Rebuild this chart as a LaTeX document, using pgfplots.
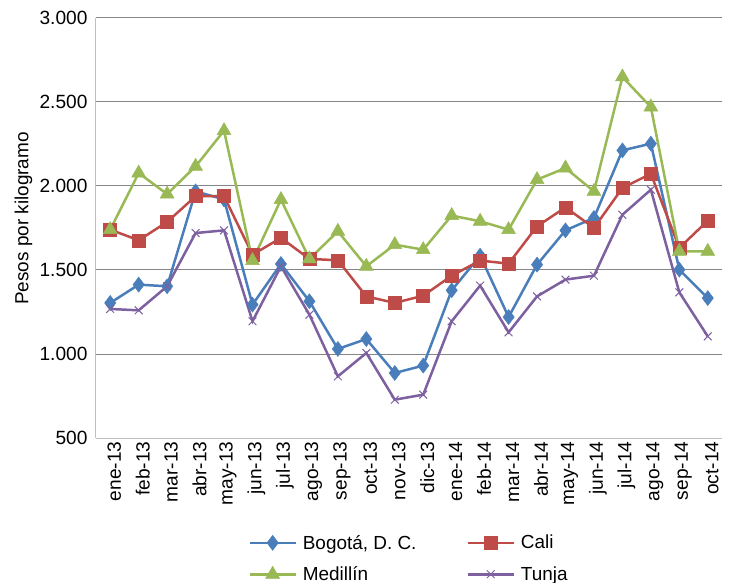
\documentclass[border=0pt]{standalone}
\usepackage{fontspec}
\setmainfont{Liberation Sans}
\usepackage{pgfplots}
\pgfplotsset{compat=1.18}
\usetikzlibrary{calc}
\definecolor{cB}{HTML}{4A7EBB}
\definecolor{cR}{HTML}{BE4B48}
\definecolor{cG}{HTML}{98B954}
\definecolor{cP}{HTML}{7D60A0}
\definecolor{gridc}{HTML}{868686}
\definecolor{axc}{HTML}{BFBFBF}
\begin{document}
\begin{tikzpicture}
\begin{axis}[
  scale only axis, width=626bp, height=420bp,
  xmin=-0.5, xmax=21.5, ymin=500, ymax=3000,
  xtick={0,...,21},
  xticklabels={ene-13,feb-13,mar-13,abr-13,may-13,jun-13,jul-13,ago-13,sep-13,oct-13,nov-13,dic-13,ene-14,feb-14,mar-14,abr-14,may-14,jun-14,jul-14,ago-14,sep-14,oct-14},
  ytick={500,1000,...,3000},
  font=\fontsize{19}{22}\selectfont,
  ticklabel style={font=\fontsize{19.2}{22}\selectfont},
  /pgf/number format/assume math mode=true,
  yticklabel style={/pgf/number format/1000 sep={.}, xshift=-5bp},
  axis x line*=bottom, axis y line*=left,
  x axis line style={axc, line width=1bp},
  y axis line style={axc, line width=1bp},
  ymajorgrids, grid style={gridc, line width=1bp},
  major x tick style={draw=none},
  major y tick style={draw=none},
  x tick label style={rotate=90, anchor=east, yshift=-4bp},
  ylabel={Pesos por kilogramo},
  ylabel style={at={(axis description cs:-0.116,0.5226)}, anchor=center},
  legend columns=2, legend cell align=left,
  legend style={at={(axis description cs:0.5,-0.287)}, anchor=center, draw=none, fill=none,
    font=\fontsize{19}{22}\selectfont, row sep=12bp,
    /tikz/every odd column/.append style={column sep=4bp},
    /tikz/every even column/.append style={column sep=48bp}},
  legend image code/.code={\draw[mark repeat=2,mark phase=2,#1] plot coordinates {(0bp,0bp) (23bp,0bp) (46bp,0bp)};},
  every axis plot/.append style={line width=2.5bp},
]
\coordinate (sw) at (rel axis cs:0,0);
\coordinate (ne) at (rel axis cs:1,1);
\addplot[cB, mark=diamond*, mark size=7.5bp, mark options={fill=cB, draw=cB, line width=0.5bp}] coordinates {
(0,1304)(1,1413)(2,1403)(3,1968)(4,1920)(5,1294)(6,1536)(7,1314)(8,1030)(9,1089)(10,887)
(11,931)(12,1379)(13,1585)(14,1220)(15,1532)(16,1736)(17,1810)(18,2212)(19,2252)(20,1502)(21,1333)};
\addlegendentry{Bogotá, D. C.}
\addplot[cR, mark=square*, mark size=6.5bp, mark options={fill=cR, draw=cR, line width=0.5bp}] coordinates {
(0,1740)(1,1677)(2,1786)(3,1939)(4,1939)(5,1591)(6,1691)(7,1566)(8,1558)(9,1343)(10,1304)
(11,1347)(12,1466)(13,1556)(14,1538)(15,1760)(16,1873)(17,1750)(18,1988)(19,2073)(20,1631)(21,1794)};
\addlegendentry{Cali}
\addplot[cG, mark=triangle*, mark size=8bp, mark options={fill=cG, draw=cG, line width=0.5bp}] coordinates {
(0,1740)(1,2077)(2,1952)(3,2117)(4,2329)(5,1556)(6,1919)(7,1566)(8,1730)(9,1522)(10,1651)
(11,1621)(12,1824)(13,1790)(14,1740)(15,2038)(16,2107)(17,1968)(18,2649)(19,2470)(20,1611)(21,1611)};
\addlegendentry{Medillín}
\addplot[cP, mark=x, mark size=5.5bp, mark options={draw=cP, line width=1bp}] coordinates {
(0,1268)(1,1260)(2,1403)(3,1720)(4,1736)(5,1195)(6,1522)(7,1234)(8,867)(9,1006)(10,728)
(11,758)(12,1195)(13,1407)(14,1129)(15,1343)(16,1443)(17,1466)(18,1829)(19,1978)(20,1367)(21,1105)};
\addlegendentry{Tunja}
\end{axis}
\pgfresetboundingbox
\path ($(sw)+(-96bp,-145bp)$) rectangle ($(ne)+(8bp,18bp)$);
\end{tikzpicture}
\end{document}
